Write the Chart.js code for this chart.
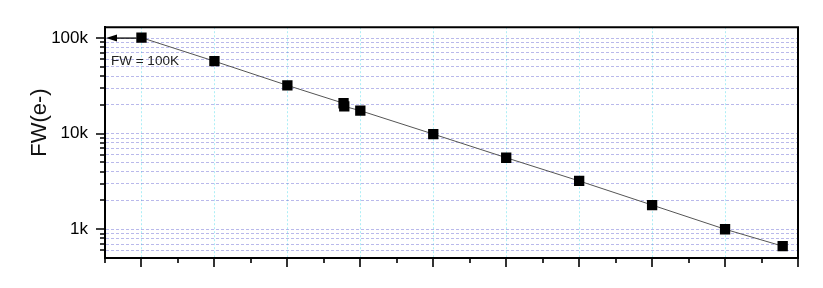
<!DOCTYPE html>
<html>
<head>
<meta charset="utf-8">
<script src="https://cdn.jsdelivr.net/npm/chart.js@4"></script>
<style>
  body { margin: 0; background: #fff; }
</style>
</head>
<body>
<canvas id="myChart" width="823" height="288"></canvas>
<script>
// values
const xValues = [0, 1, 2, 2.77, 2.78, 3, 4, 5, 6, 7, 8, 8.79];
const fwValues = [101000, 57300, 32000, 20800, 19300, 17400, 9900, 5600, 3200, 1790, 1000, 665];

const yTickValues = [600, 700, 800, 900, 1000, 2000, 3000, 4000, 5000, 6000, 7000, 8000, 9000,
  10000, 20000, 30000, 40000, 50000, 60000, 70000, 80000, 90000, 100000];
const yTickLabels = { 1000: '1k', 10000: '10k', 100000: '100k' };
const xTickValues = [-0.5, 0, 0.5, 1, 1.5, 2, 2.5, 3, 3.5, 4, 4.5, 5, 5.5, 6, 6.5, 7, 7.5, 8, 8.5, 9];

const fwLevel = 100000;
const annotationText = 'FW = 100K';
const yTitle = 'FW(e-)';

const ctx = document.getElementById('myChart');
const fontFamily = '"Liberation Sans", Arial, sans-serif';

var points = xValues.map((x, i) => ({ x: x, y: fwValues[i] }));

// frame, tick marks, arrow and texts
const extras = {
  id: 'extras',
  afterDraw(chart) {
    const c = chart.ctx;
    const a = chart.chartArea;
    const xs = chart.scales.x;
    const ys = chart.scales.y;
    c.save();
    c.strokeStyle = '#000';
    c.lineWidth = 2;
    c.beginPath();
    c.moveTo(a.left, a.top);
    c.lineTo(a.right, a.top);
    c.lineTo(a.right, a.bottom);
    c.stroke();

    c.lineWidth = 1.6;
    c.beginPath();
    ys.ticks.forEach(t => {
      const y = Math.round(ys.getPixelForValue(t.value));
      const len = yTickLabels[t.value] ? 9 : 5;
      c.moveTo(a.left - len, y);
      c.lineTo(a.left, y);
    });
    xs.ticks.forEach(t => {
      const x = Math.round(xs.getPixelForValue(t.value));
      const len = Number.isInteger(t.value) ? 9 : 5;
      c.moveTo(x, a.bottom);
      c.lineTo(x, a.bottom + len);
    });
    c.stroke();

    // arrow pointing at the axis
    const ay = ys.getPixelForValue(fwLevel);
    const tip = a.left + 1;
    const end = xs.getPixelForValue(xValues[0]) - 5;
    c.lineWidth = 1.3;
    c.beginPath();
    c.moveTo(tip + 8, ay);
    c.lineTo(end, ay);
    c.stroke();
    c.fillStyle = '#000';
    c.beginPath();
    c.moveTo(tip, ay);
    c.lineTo(tip + 11, ay - 3.5);
    c.lineTo(tip + 11, ay + 3.5);
    c.closePath();
    c.fill();

    c.font = '13.5px ' + fontFamily;
    c.fillStyle = '#222';
    c.textBaseline = 'alphabetic';
    c.textAlign = 'left';
    c.fillText(annotationText, a.left + 6, ay + 26.5);

    c.translate(46, (a.top + a.bottom) / 2 - 20);
    c.rotate(-Math.PI / 2);
    c.textAlign = 'center';
    c.font = '22px ' + fontFamily;
    c.fillStyle = '#111';
    c.fillText(yTitle, 0, 0);
    c.restore();
  }
};

var myChart = new Chart(ctx, {
  type: 'line',
  data: {
    datasets: [{
      label: 'FW',
      data: points,
      borderColor: '#555',
      borderWidth: 1,
      pointStyle: 'rect',
      pointRadius: 7.3,
      pointHoverRadius: 7.3,
      pointBackgroundColor: '#000',
      pointBorderColor: '#000',
      pointBorderWidth: 0,
      tension: 0
    }]
  },
  options: {
    responsive: false,
    animation: false,
    events: [],
    layout: { padding: { left: 0, top: 27, right: 25, bottom: 0 } },
    plugins: {
      legend: { display: false },
      tooltip: { enabled: false }
    },
    scales: {
      x: {
        type: 'linear',
        min: -0.5,
        max: 9,
        afterBuildTicks: (scale) => { scale.ticks = xTickValues.map(v => ({ value: v })); },
        afterFit: (scale) => { scale.height = 30; },
        ticks: { display: false },
        grid: {
          drawTicks: false,
          lineWidth: 1,
          color: (c) => (c.tick && Number.isInteger(c.tick.value) && c.tick.value >= 0 && c.tick.value < 9)
            ? 'rgba(120, 228, 242, 0.6)' : 'rgba(0,0,0,0)'
        },
        border: { color: '#000', width: 2, dash: [2, 2] }
      },
      y: {
        type: 'logarithmic',
        min: 500,
        max: 130000,
        afterBuildTicks: (scale) => { scale.ticks = yTickValues.map(v => ({ value: v })); },
        afterFit: (scale) => { scale.width = 105; },
        ticks: {
          autoSkip: false,
          padding: 17,
          color: '#000',
          font: { size: 17, family: fontFamily },
          callback: (v) => yTickLabels[v] || ''
        },
        grid: {
          drawTicks: false,
          lineWidth: 1,
          color: 'rgba(100, 100, 210, 0.45)'
        },
        border: { color: '#000', width: 2, dash: [3, 2] }
      }
    }
  },
  plugins: [extras]
});
</script>
</body>
</html>
